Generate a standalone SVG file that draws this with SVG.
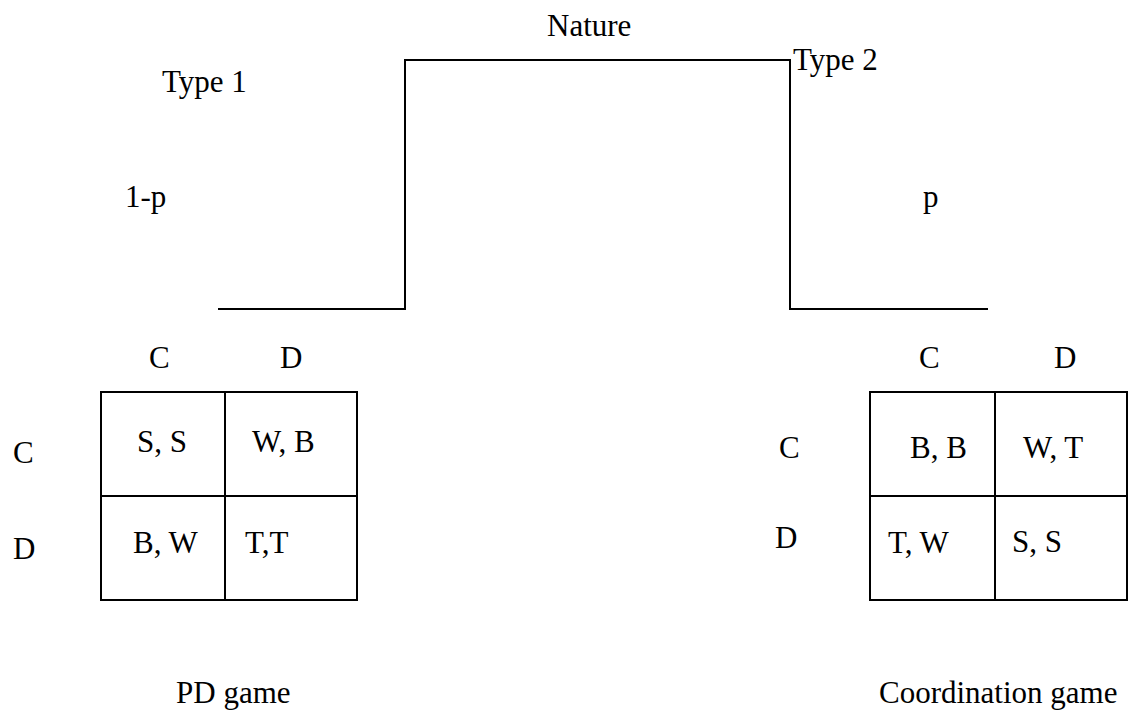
<svg xmlns="http://www.w3.org/2000/svg" width="1130" height="710" viewBox="0 0 1130 710">
<style>
text { font-family: "Liberation Serif", "Times New Roman", serif; font-size: 31px; fill: #000; }
.ln { stroke: #000; stroke-width: 2; fill: none; }
</style>
<rect width="1130" height="710" fill="#fff"/>
<g id="connectors">
<polyline class="ln" points="218,309 405,309 405,60 790,60 790,309 988,309"/>
</g>
<g id="nature"><text x="547" y="36">Nature</text></g>
<g id="type1-label"><text x="162" y="92">Type 1</text><text x="125" y="207">1-p</text></g>
<g id="type2-label"><text x="793" y="70">Type 2</text><text x="923" y="207">p</text></g>
<g id="pd-game">
<rect class="ln" x="101" y="392" width="256" height="208"/>
<line class="ln" x1="225" y1="392" x2="225" y2="600"/>
<line class="ln" x1="101" y1="496" x2="357" y2="496"/>
<text x="149" y="368">C</text>
<text x="280" y="368">D</text>
<text x="13" y="463">C</text>
<text x="13" y="559">D</text>
<text x="137" y="452">S, S</text>
<text x="252" y="452">W, B</text>
<text x="133" y="553">B, W</text>
<text x="245" y="553">T,T</text>
<text x="176" y="703">PD game</text>
</g>
<g id="coordination-game">
<rect class="ln" x="870" y="392" width="257" height="208"/>
<line class="ln" x1="995" y1="392" x2="995" y2="600"/>
<line class="ln" x1="870" y1="496" x2="1127" y2="496"/>
<text x="919" y="368">C</text>
<text x="1054" y="368">D</text>
<text x="779" y="458">C</text>
<text x="775" y="548">D</text>
<text x="910" y="458">B, B</text>
<text x="1023" y="458">W, T</text>
<text x="888" y="553">T, W</text>
<text x="1012" y="552">S, S</text>
<text x="879" y="703">Coordination game</text>
</g>
</svg>
